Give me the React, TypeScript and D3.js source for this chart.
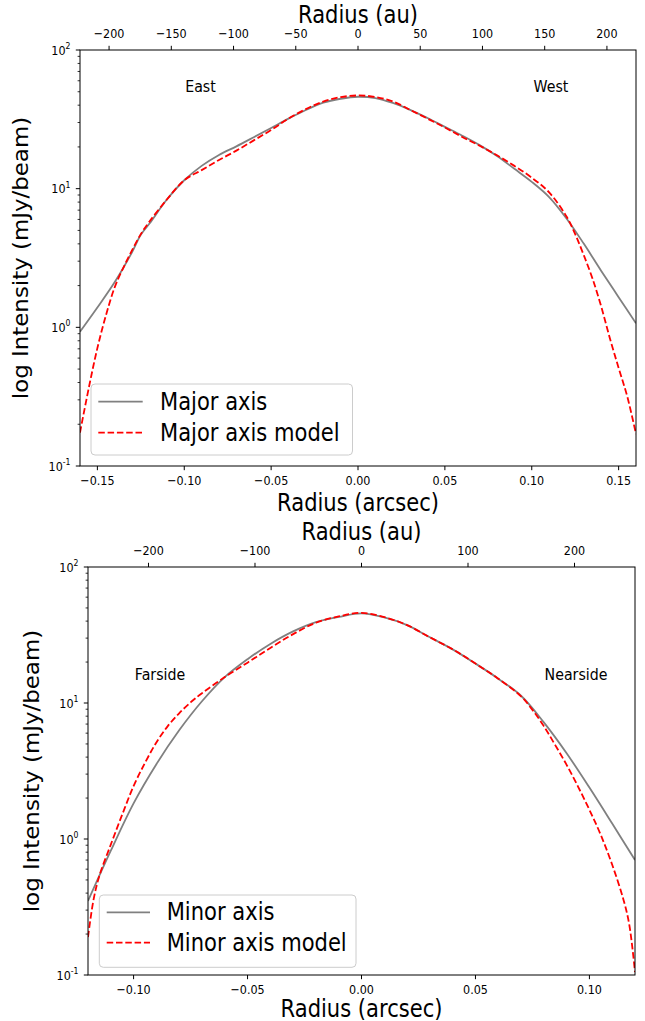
import React from 'react';
import * as d3 from 'd3';

// ---------- Panel 1: major axis ----------
const majorObsX = [-0.16, -0.15, -0.14, -0.13, -0.125, -0.12, -0.11, -0.10, -0.09, -0.08, -0.07, -0.06, -0.05, -0.04, -0.03, -0.02, -0.01, 0, 0.01, 0.02, 0.03, 0.04, 0.05, 0.06, 0.07, 0.08, 0.09, 0.10, 0.11, 0.12, 0.13, 0.14, 0.15, 0.16];
const majorObsI = [0.93, 1.39, 2.12, 3.49, 4.65, 5.6, 8.35, 11.5, 14.6, 17.5, 20.2, 23.5, 27.4, 32, 36.9, 41.7, 44.5, 46, 45.0, 41.5, 37.0, 32.3, 27.9, 24.1, 20.6, 17.2, 13.9, 11.2, 8.7, 6.1, 4.0, 2.55, 1.65, 1.07];

const majorModX = [-0.16, -0.155, -0.15, -0.145, -0.14, -0.135, -0.13, -0.125, -0.12, -0.11, -0.10, -0.09, -0.08, -0.07, -0.06, -0.05, -0.04, -0.03, -0.02, -0.01, 0, 0.01, 0.02, 0.03, 0.04, 0.05, 0.06, 0.07, 0.08, 0.09, 0.10, 0.11, 0.12, 0.125, 0.13, 0.135, 0.14, 0.145, 0.15, 0.155, 0.16];
const majorModI = [0.174, 0.363, 0.708, 1.23, 1.95, 2.7, 3.6, 4.7, 5.8, 8.35, 11.5, 13.6, 16.1, 18.8, 22.3, 26.5, 32, 37.5, 42.5, 45.7, 47, 45.8, 42.6, 37, 32, 27.6, 23.6, 20.4, 17.4, 14.6, 12.0, 9.4, 6.3, 4.7, 3.3, 2.24, 1.41, 0.83, 0.51, 0.316, 0.17];

// ---------- Panel 2: minor axis ----------
const minorObsX = [-0.12, -0.11, -0.10, -0.09, -0.08, -0.07, -0.06, -0.05, -0.04, -0.03, -0.02, -0.01, 0, 0.01, 0.02, 0.03, 0.04, 0.05, 0.06, 0.07, 0.08, 0.09, 0.10, 0.11, 0.12];
const minorObsI = [0.35, 0.82, 1.83, 3.55, 6.3, 10.3, 15.5, 21, 27.2, 33.6, 39.3, 42.9, 45.6, 42.6, 37.4, 30.4, 24.8, 19.5, 15.1, 11.3, 7.2, 4.27, 2.39, 1.30, 0.70];

const minorModX = [-0.12, -0.1175, -0.115, -0.11, -0.105, -0.10, -0.095, -0.09, -0.085, -0.08, -0.075, -0.07, -0.06, -0.05, -0.04, -0.03, -0.02, -0.01, 0, 0.01, 0.02, 0.03, 0.04, 0.05, 0.06, 0.07, 0.075, 0.08, 0.085, 0.09, 0.095, 0.10, 0.105, 0.11, 0.115, 0.1175, 0.12];
const minorModI = [0.19, 0.363, 0.537, 0.91, 1.51, 2.45, 3.63, 5.13, 6.76, 8.4, 10.1, 11.8, 15.5, 19.8, 25.4, 32.1, 38.9, 43.3, 46, 42.8, 37.4, 30.4, 24.8, 19.5, 15.1, 11.2, 8.9, 6.76, 4.9, 3.51, 2.43, 1.64, 1.07, 0.646, 0.355, 0.234, 0.105];

// ---------- Ticks ----------
const majorArcTicks = [-0.15, -0.10, -0.05, 0, 0.05, 0.10, 0.15];
const majorAuTicks = [-200, -150, -100, -50, 0, 50, 100, 150, 200];
const minorArcTicks = [-0.10, -0.05, 0, 0.05, 0.10];
const minorAuTicks = [-200, -100, 0, 100, 200];
const yMajorTicks = [0.1, 1, 10, 100];
const yExponents = ['-1', '0', '1', '2'];

const FONT = 'DejaVu Sans';
const SX = 0.86;

function fmtArc(v: number) {
  const s = Math.abs(v).toFixed(2);
  return (v < -1e-9 ? '\u2212' : '') + s;
}
function fmtAu(v: number) {
  return (v < 0 ? '\u2212' : '') + Math.abs(v);
}

function HText({ x, y, size, anchor = 'start', children }: any) {
  return (
    <text transform={`translate(${x},${y}) scale(${SX},1)`} fontSize={size} textAnchor={anchor} fontFamily={FONT} fill="#000">
      {children}
    </text>
  );
}

function Panel(props: any) {
  const { id, left, right, top, bottom, xMax, auPerArc, arcTicks, auTicks, obsX, obsI, modX, modI, notes, legend, names, yLabelX, xLabelY } = props;
  const x = d3.scaleLinear().domain([-xMax, xMax]).range([left, right]);
  const xAu = d3.scaleLinear().domain([-xMax * auPerArc, xMax * auPerArc]).range([left, right]);
  const y = d3.scaleLog().domain([0.1, 100]).range([bottom, top]);

  const mkLine = (xs: number[]) =>
    d3.line<number>().x((_, i) => x(xs[i])).y((d) => y(d)).curve(d3.curveCatmullRom.alpha(0.5));

  const minor: number[] = [];
  for (let e = -1; e < 2; e++) for (let m = 2; m < 10; m++) minor.push(m * Math.pow(10, e));

  const cx = (left + right) / 2;
  const cy = (top + bottom) / 2;

  return (
    <g>
      <defs>
        <clipPath id={`clip-${id}`}>
          <rect x={left} y={top} width={right - left} height={bottom - top} />
        </clipPath>
      </defs>
      <g clipPath={`url(#clip-${id})`}>
        <path d={mkLine(obsX)(obsI) || ''} fill="none" stroke="#808080" strokeWidth={1.8} />
        <path d={mkLine(modX)(modI) || ''} fill="none" stroke="#ff0000" strokeWidth={1.8} strokeDasharray="6.5,2.8" />
      </g>
      {/* frame */}
      <rect x={left} y={top} width={right - left} height={bottom - top} fill="none" stroke="#000" strokeWidth={1} />
      {/* bottom ticks */}
      {arcTicks.map((t: number) => (
        <g key={`b${t}`}>
          <line x1={x(t)} x2={x(t)} y1={bottom} y2={bottom + 4.2} stroke="#000" strokeWidth={1} />
          <HText x={x(t)} y={bottom + 18.5} size={13} anchor="middle">{fmtArc(t)}</HText>
        </g>
      ))}
      {/* top ticks */}
      {auTicks.map((t: number) => (
        <g key={`t${t}`}>
          <line x1={xAu(t)} x2={xAu(t)} y1={top} y2={top - 4.2} stroke="#000" strokeWidth={1} />
          <HText x={xAu(t)} y={top - 12} size={13} anchor="middle">{fmtAu(t)}</HText>
        </g>
      ))}
      {/* y ticks */}
      {minor.map((t) => (
        <line key={`m${t}`} x1={left} x2={left - 2.4} y1={y(t)} y2={y(t)} stroke="#000" strokeWidth={0.8} />
      ))}
      {yMajorTicks.map((t, i) => (
        <g key={`y${t}`}>
          <line x1={left} x2={left - 4.2} y1={y(t)} y2={y(t)} stroke="#000" strokeWidth={1} />
          <text transform={`translate(${left - 9.5},${y(t) + 4.5}) scale(${SX},1)`} fontSize={13} textAnchor="end" fontFamily={FONT}>
            10<tspan fontSize={9} dy={-5.5}>{yExponents[i]}</tspan>
          </text>
        </g>
      ))}
      {/* axis labels */}
      <HText x={cx} y={top - 27.5} size={24.5} anchor="middle">Radius (au)</HText>
      <HText x={cx} y={bottom + xLabelY} size={24.5} anchor="middle">Radius (arcsec)</HText>
      <text transform={`translate(${yLabelX},${cy}) rotate(-90) scale(0.935,${SX})`} fontSize={24.5} textAnchor="middle" fontFamily={FONT}>
        log Intensity (mJy/beam)
      </text>
      {/* annotations */}
      {notes.map((n: any) => (
        <HText key={n.text} x={n.x} y={n.y} size={16.5} anchor="middle">{n.text}</HText>
      ))}
      {/* legend */}
      <rect x={legend.x0} y={legend.y0} width={legend.x1 - legend.x0} height={legend.y1 - legend.y0} rx={4} ry={4} fill="#fff" fillOpacity={0.8} stroke="#cccccc" strokeWidth={1} />
      <line x1={legend.lx0} x2={legend.lx1} y1={legend.r1} y2={legend.r1} stroke="#808080" strokeWidth={1.8} />
      <line x1={legend.lx0} x2={legend.lx1} y1={legend.r2} y2={legend.r2} stroke="#ff0000" strokeWidth={1.8} strokeDasharray="6.5,2.8" />
      <HText x={legend.tx} y={legend.r1 + 8} size={24.5}>{names[0]}</HText>
      <HText x={legend.tx} y={legend.r2 + 8} size={24.5}>{names[1]}</HText>
    </g>
  );
}

export default function App() {
  return (
    <svg width={645} height={1021} style={{ position: 'absolute', left: 0, top: 0, background: '#fff' }}>
      <rect x={0} y={0} width={645} height={1021} fill="#fff" />
      <Panel
        id="p1"
        left={80} right={636} top={50} bottom={466}
        xMax={0.16} auPerArc={1396}
        arcTicks={majorArcTicks} auTicks={majorAuTicks}
        obsX={majorObsX} obsI={majorObsI} modX={majorModX} modI={majorModI}
        notes={[{ text: 'East', x: 200.5, y: 91.5 }, { text: 'West', x: 551, y: 91.5 }]}
        legend={{ x0: 91, y0: 384, x1: 352.5, y1: 455, lx0: 98.3, lx1: 142.7, tx: 160, r1: 401.7, r2: 432.7 }}
        names={['Major axis', 'Major axis model']}
        yLabelX={28}
        xLabelY={44.5}
      />
      <Panel
        id="p2"
        left={88} right={635} top={567} bottom={975}
        xMax={0.12} auPerArc={2140}
        arcTicks={minorArcTicks} auTicks={minorAuTicks}
        obsX={minorObsX} obsI={minorObsI} modX={minorModX} modI={minorModI}
        notes={[{ text: 'Farside', x: 160, y: 680 }, { text: 'Nearside', x: 576, y: 680 }]}
        legend={{ x0: 99.3, y0: 895, x1: 356, y1: 967.3, lx0: 106.7, lx1: 150, tx: 166.7, r1: 912.3, r2: 942.7 }}
        names={['Minor axis', 'Minor axis model']}
        yLabelX={39}
        xLabelY={41.5}
      />
    </svg>
  );
}
